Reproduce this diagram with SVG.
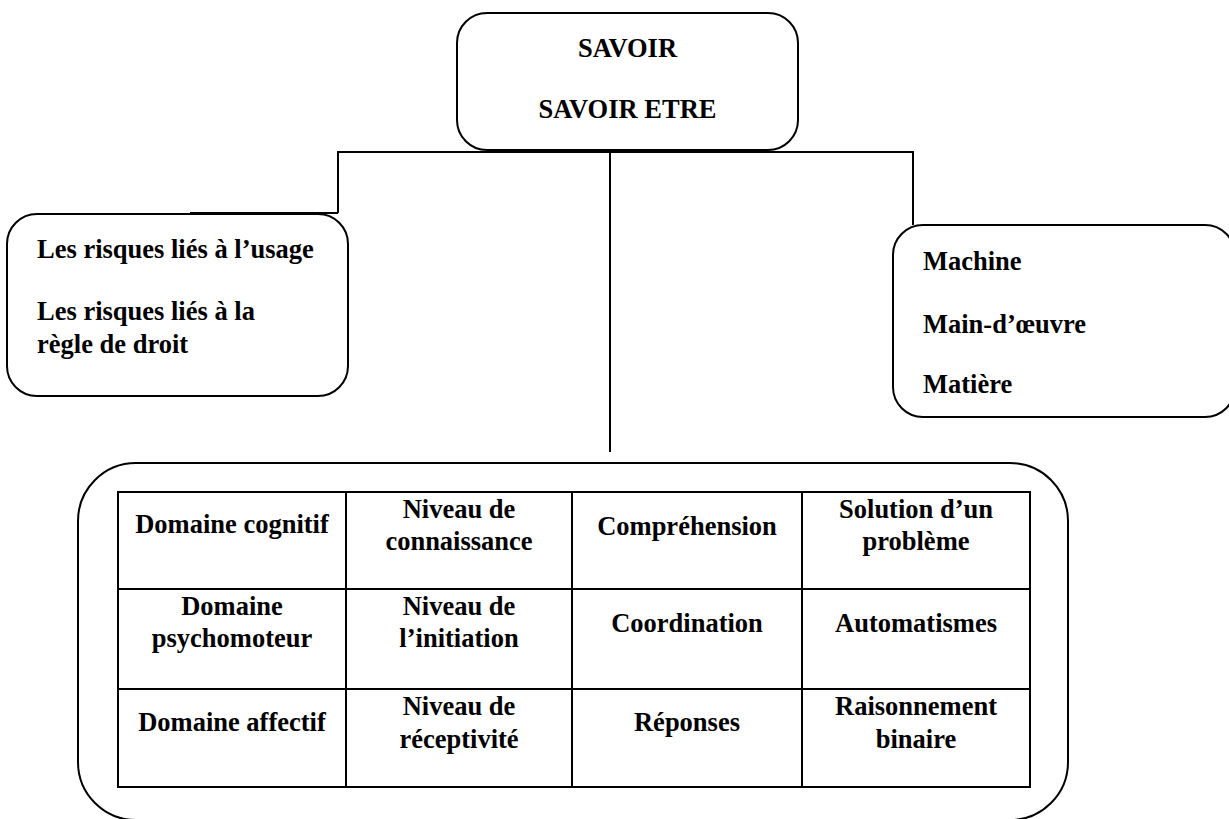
<svg xmlns="http://www.w3.org/2000/svg" width="1229" height="819" viewBox="0 0 1229 819">
<style>
.box{fill:#fff;stroke:#000;stroke-width:2}
.ln{fill:none;stroke:#000;stroke-width:2}
.t{font-family:"Liberation Serif","Times New Roman",serif;font-weight:bold;font-size:26.5px;fill:#000}
.c{text-anchor:middle}
</style>
<rect width="1229" height="819" fill="#fff"/>
<g id="connectors">
<path class="ln" d="M338,213 V152 H913 V225"/>
<path class="ln" d="M190,213 H338"/>
<path class="ln" d="M610,152 V452"/>
</g>
<g id="top">
<rect class="box" x="457" y="13" width="341" height="137" rx="30"/>
<text class="t c" x="627.5" y="57">SAVOIR</text>
<text class="t c" x="627.5" y="118">SAVOIR ETRE</text>
</g>
<g id="left">
<rect class="box" x="7" y="214" width="341" height="182" rx="30"/>
<text class="t" x="37" y="258">Les risques liés à l’usage</text>
<text class="t" x="37" y="320">Les risques liés à la</text>
<text class="t" x="37" y="353">règle de droit</text>
</g>
<g id="right">
<rect class="box" x="893" y="225" width="342" height="192" rx="30"/>
<text class="t" x="923" y="270">Machine</text>
<text class="t" x="923" y="333">Main-d’œuvre</text>
<text class="t" x="923" y="393">Matière</text>
</g>
<g id="bottom">
<rect class="box" x="78" y="463" width="990" height="357" rx="58"/>
<g class="ln">
<rect x="118" y="492" width="912" height="295"/>
<path d="M346,492 V787 M572,492 V787 M802,492 V787 M118,589 H1030 M118,689 H1030"/>
</g>
<g class="t c">
<text x="232" y="533">Domaine cognitif</text>
<text x="459" y="518">Niveau de</text>
<text x="459" y="550">connaissance</text>
<text x="687" y="535">Compréhension</text>
<text x="916" y="518">Solution d’un</text>
<text x="916" y="550">problème</text>
<text x="232" y="615">Domaine</text>
<text x="232" y="647">psychomoteur</text>
<text x="459" y="615">Niveau de</text>
<text x="459" y="647">l’initiation</text>
<text x="687" y="632">Coordination</text>
<text x="916" y="632">Automatismes</text>
<text x="232" y="731">Domaine affectif</text>
<text x="459" y="715">Niveau de</text>
<text x="459" y="748">réceptivité</text>
<text x="687" y="731">Réponses</text>
<text x="916" y="715">Raisonnement</text>
<text x="916" y="748">binaire</text>
</g>
</g>
</svg>
